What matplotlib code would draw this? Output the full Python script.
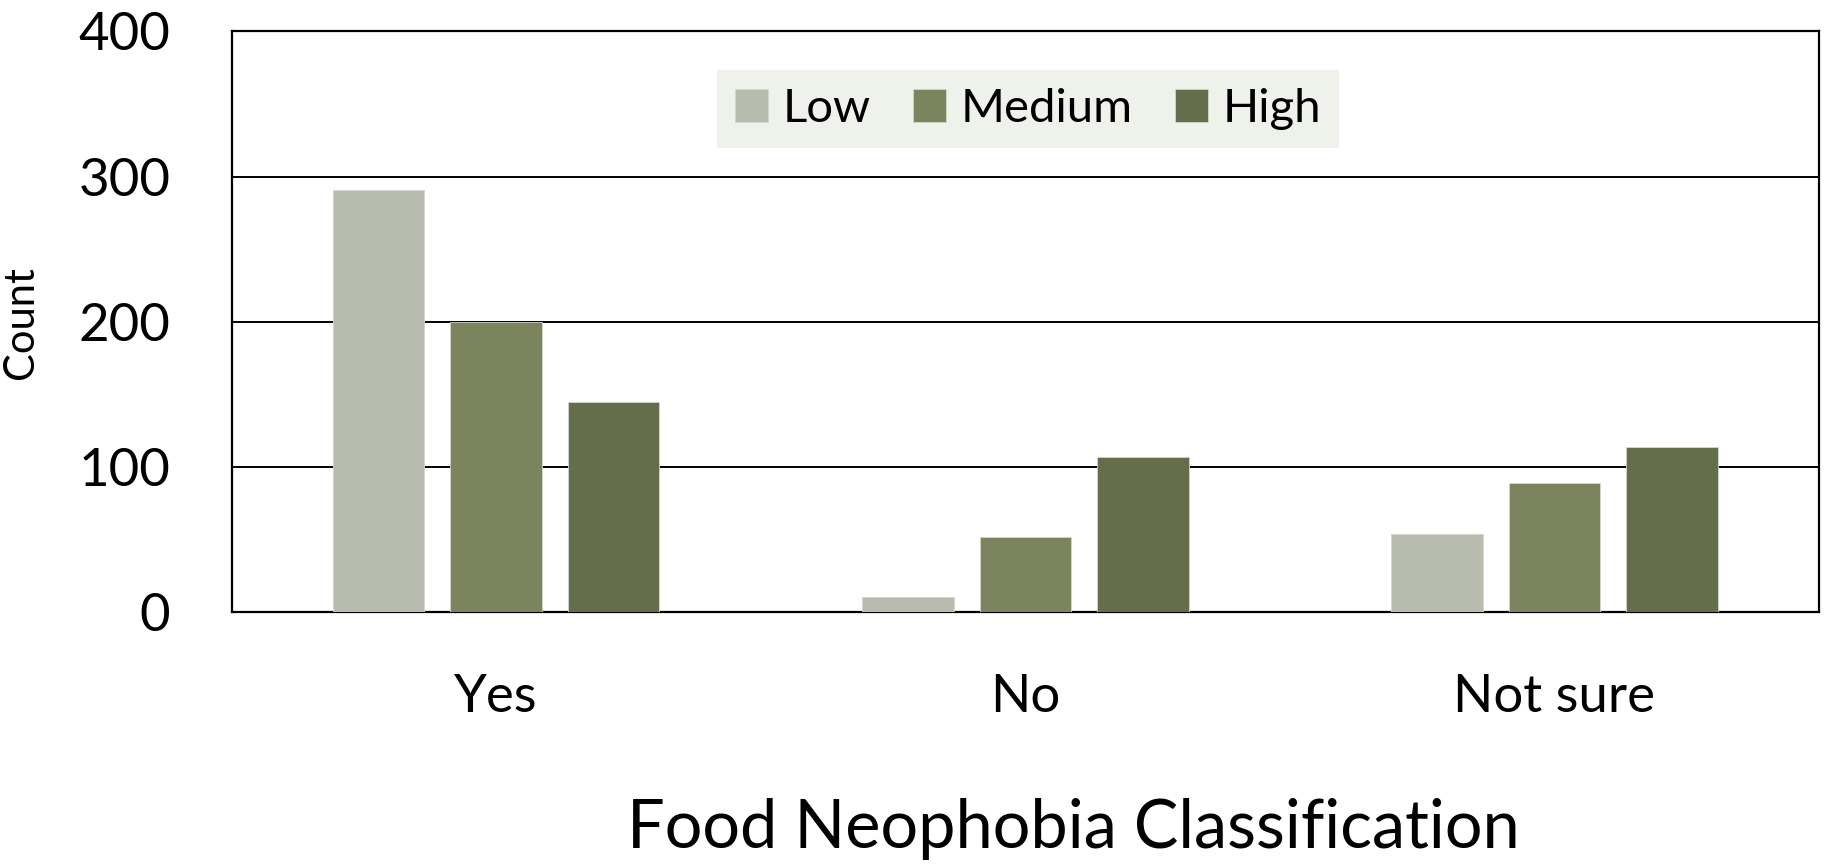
import numpy as np
import matplotlib
matplotlib.use("Agg")
import matplotlib.pyplot as plt

# counts per neophobia level for each answer group
categories = ["Yes", "No", "Not sure"]
levels = ["Low", "Medium", "High"]
low = [291, 11, 54]
medium = [200, 52, 89]
high = [145, 107, 114]
colors = ["#B8BCAE", "#7B845C", "#646E4B"]

plt.rcParams["font.family"] = ["Lato", "DejaVu Sans"]
plt.rcParams["text.color"] = "black"
plt.rcParams["xtick.color"] = "black"
plt.rcParams["ytick.color"] = "black"

fig = plt.figure(figsize=(18.25, 8.64), dpi=100)
ax = fig.add_axes([0.1269, 0.2911, 0.8698, 0.6726])

x = np.arange(len(categories))
width = 0.173
step = 0.222
for i, (vals, name) in enumerate(zip([low, medium, high], levels)):
    ax.bar(x + (i - 1) * step, vals, width, color=colors[i], label=name,
           edgecolor="#d4d7cc", linewidth=0.6, zorder=3)

ax.set_xlim(-0.5, 2.5)
ax.set_ylim(0, 400)
ax.set_yticks([0, 100, 200, 300, 400])
ax.set_xticks(x)
ax.set_xticklabels(categories)
ax.tick_params(axis="both", length=0, labelsize=38)
ax.tick_params(axis="y", pad=44)
ax.tick_params(axis="x", pad=44)
ax.yaxis.grid(True, color="black", linewidth=1.4, zorder=0)
for s in ax.spines.values():
    s.set_color("black")
    s.set_linewidth(1.6)

fig.text(0.0115, 0.627, "Count", rotation=90, ha="center", va="center", fontsize=30)
fig.text(0.588, 0.041, "Food Neophobia Classification", ha="center", va="center", fontsize=48)

leg = ax.legend(loc="upper center", bbox_to_anchor=(0.5017, 0.933), ncol=3,
                fontsize=34, frameon=True, fancybox=False, borderpad=0.38,
                borderaxespad=0, handlelength=0.7, handleheight=0.7,
                handletextpad=0.3, columnspacing=0.9)
leg.get_frame().set_facecolor("#EFF1EB")
leg.get_frame().set_edgecolor("none")
leg.get_frame().set_alpha(1)

fig.savefig("out.png", dpi=100)
